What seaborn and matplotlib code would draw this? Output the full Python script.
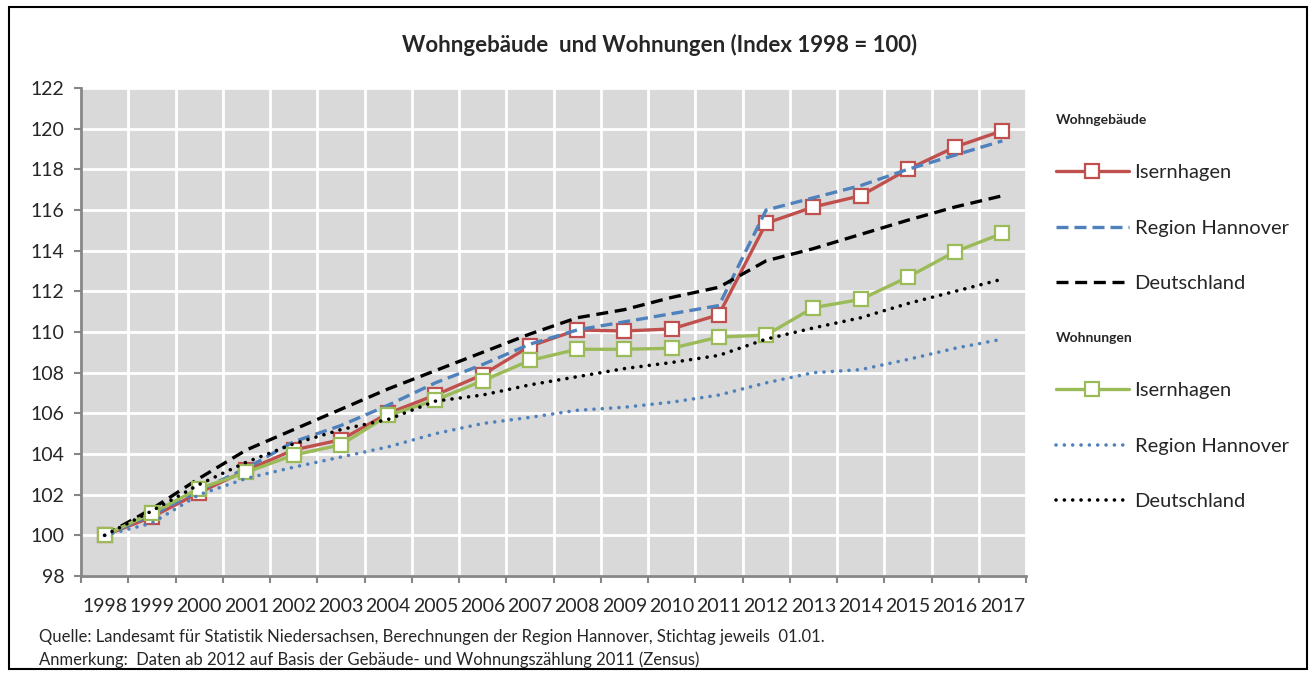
import numpy as np
import pandas as pd
import seaborn as sns
import matplotlib
matplotlib.use('Agg')
from matplotlib import pyplot as plt
from matplotlib.patches import Rectangle
from matplotlib.ticker import MultipleLocator, FixedLocator

# index values (1998 = 100)
years = list(range(1998, 2018))
geb_isernhagen = [100.0, 100.9, 102.1, 103.2, 104.2, 104.7, 106.0, 106.9, 107.9, 109.3,
                  110.1, 110.05, 110.15, 110.85, 115.35, 116.15, 116.7, 118.0, 119.1, 119.9]
geb_region = [100.0, 101.0, 102.2, 103.3, 104.6, 105.4, 106.4, 107.5, 108.4, 109.4,
              110.1, 110.5, 110.9, 111.3, 116.0, 116.6, 117.2, 118.0, 118.7, 119.4]
geb_deutschland = [100.0, 101.3, 102.8, 104.2, 105.2, 106.2, 107.2, 108.1, 109.0, 109.9,
                   110.7, 111.1, 111.7, 112.2, 113.5, 114.1, 114.8, 115.5, 116.15, 116.7]
whg_isernhagen = [100.0, 101.1, 102.3, 103.1, 103.95, 104.45, 105.9, 106.65, 107.6, 108.6,
                  109.15, 109.15, 109.2, 109.75, 109.85, 111.2, 111.6, 112.7, 113.95, 114.85]
whg_region = [100.0, 100.6, 102.0, 102.8, 103.35, 103.85, 104.35, 105.0, 105.5, 105.8,
              106.15, 106.3, 106.55, 106.9, 107.5, 108.0, 108.15, 108.65, 109.2, 109.65]
whg_deutschland = [100.0, 101.2, 102.5, 103.6, 104.5, 105.2, 105.7, 106.6, 106.9, 107.4,
                   107.8, 108.2, 108.5, 108.85, 109.65, 110.2, 110.7, 111.4, 112.0, 112.6]
series_names = ['Isernhagen', 'Region Hannover', 'Deutschland']

red = '#C0504D'
blue = '#4F81BD'
green = '#9BBB59'

sns.set_style('ticks')
plt.rcParams['font.family'] = ['Lato', 'DejaVu Sans']

df = pd.DataFrame({'Jahr': years,
                   'geb_isernhagen': geb_isernhagen, 'geb_region': geb_region,
                   'geb_deutschland': geb_deutschland, 'whg_isernhagen': whg_isernhagen,
                   'whg_region': whg_region, 'whg_deutschland': whg_deutschland})

fig = plt.figure(figsize=(13.14, 6.75), dpi=100)
ax = fig.add_axes([81/1314, 1-576/675, (1026-81)/1314, (576-88)/675])
ax.set_facecolor('#D9D9D9')

marker_kw = dict(marker='s', markersize=10.5, markerfacecolor='white', markeredgewidth=1.6)
sns.lineplot(data=df, x='Jahr', y='geb_isernhagen', ax=ax, color=red, linewidth=2.4,
             markeredgecolor=red, **marker_kw)
sns.lineplot(data=df, x='Jahr', y='geb_region', ax=ax, color=blue, linewidth=2.4,
             linestyle=(0, (3.6, 1.8)))
sns.lineplot(data=df, x='Jahr', y='geb_deutschland', ax=ax, color='black', linewidth=2.4,
             linestyle=(0, (3.6, 2.0)))
sns.lineplot(data=df, x='Jahr', y='whg_isernhagen', ax=ax, color=green, linewidth=2.4,
             markeredgecolor=green, **marker_kw)
sns.lineplot(data=df, x='Jahr', y='whg_region', ax=ax, color=blue, linewidth=2.6,
             linestyle=(0, (0.01, 2.3)), dash_capstyle='round')
sns.lineplot(data=df, x='Jahr', y='whg_deutschland', ax=ax, color='black', linewidth=2.6,
             linestyle=(0, (0.01, 2.3)), dash_capstyle='round')

ax.set_xlim(years[0] - 0.5, years[-1] + 0.5)
ax.set_ylim(98, 122)
ax.yaxis.set_major_locator(MultipleLocator(2))
ax.set_xticks(years)
ax.set_xticklabels([str(y) for y in years])
ax.xaxis.set_minor_locator(FixedLocator(np.arange(years[0] - 0.5, years[-1] + 1.0, 1.0)))
ax.set_xlabel('')
ax.set_ylabel('')

ax.set_axisbelow(True)
ax.grid(True, axis='y', which='major', color='white', linewidth=2)
ax.grid(True, axis='x', which='minor', color='white', linewidth=2)
ax.grid(False, axis='x', which='major')

for s in ['top', 'right']:
    ax.spines[s].set_visible(False)
for s in ['left', 'bottom']:
    ax.spines[s].set_color('#868686')
    ax.spines[s].set_linewidth(2)

ax.tick_params(axis='x', which='major', length=0, pad=16, labelsize=14)
ax.tick_params(axis='x', which='minor', length=5, width=1.5, color='#868686')
ax.tick_params(axis='y', which='major', length=5, width=1.5, color='#868686', pad=7, labelsize=14)

lines = ax.get_lines()
leg_kw = dict(loc='upper left', frameon=False, fontsize=14.5,
              title_fontproperties={'weight': 'bold', 'size': 10}, alignment='left',
              handlelength=3.6, labelspacing=1.9, borderpad=0, handletextpad=0.3)
leg1 = fig.legend(lines[:3], series_names, title='Wohngebäude',
                  bbox_to_anchor=(1046/1314, 1-104/675), **leg_kw)
leg2 = fig.legend(lines[3:], series_names, title='Wohnungen',
                  bbox_to_anchor=(1046/1314, 1-322/675), **leg_kw)

fig.text(660/1314, 1-45/675, 'Wohngebäude  und Wohnungen (Index 1998 = 100)',
         ha='center', va='center', fontsize=16, fontweight='bold')
fig.text(39/1314, 1-637/675,
         'Quelle: Landesamt für Statistik Niedersachsen, Berechnungen der Region Hannover, Stichtag jeweils  01.01.',
         ha='left', va='center', fontsize=12)
fig.text(39/1314, 1-660/675,
         'Anmerkung:  Daten ab 2012 auf Basis der Gebäude- und Wohnungszählung 2011 (Zensus)',
         ha='left', va='center', fontsize=12)

fig.patches.append(Rectangle((9/1314, 6/675), (1307-9)/1314, (669-7)/675,
                             transform=fig.transFigure, fill=False, edgecolor='black',
                             linewidth=1.5))

plt.savefig('out.png', dpi=100)
plt.close()
